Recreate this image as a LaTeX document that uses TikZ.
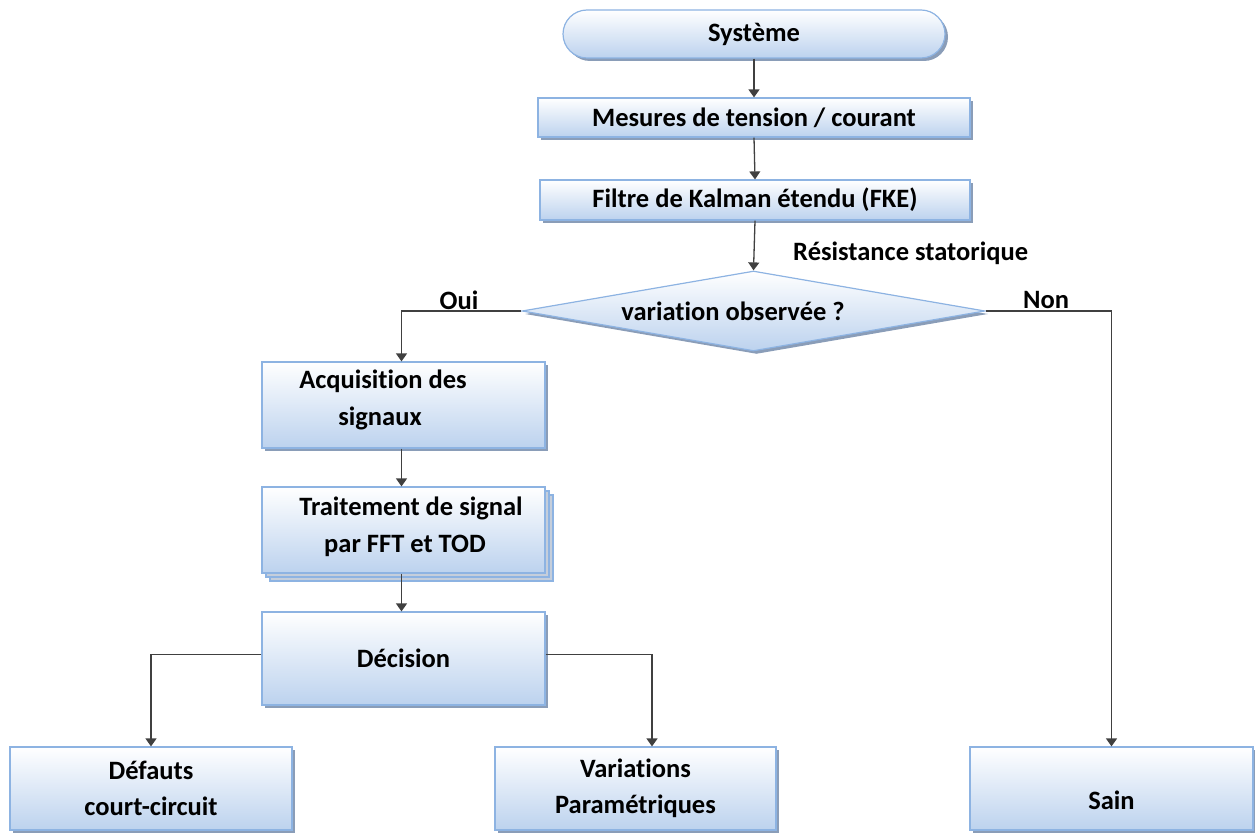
\documentclass[tikz,border=0pt]{standalone}
\usepackage{fontspec}
\setmainfont{Carlito}[Ligatures=NoCommon]
\usetikzlibrary{arrows.meta,shapes.misc,shapes.geometric,shadows}
\definecolor{boxline}{HTML}{8DB3E2}
\definecolor{boxbot}{HTML}{BCD2EE}
\definecolor{shadowc}{HTML}{8A9DB8}
\definecolor{conn}{HTML}{404040}
\tikzset{
  boxsty/.style={draw=boxline, line width=1.2pt, top color=white, bottom color=boxbot,
    inner sep=0pt, font=\fontsize{26.5}{36.5}\selectfont\bfseries, align=center,
    drop shadow={shadow xshift=3pt, shadow yshift=-3pt, fill=shadowc, opacity=1}},
  plainbox/.style={boxsty, rectangle},
  txt/.style={font=\fontsize{26.5}{36.5}\selectfont\bfseries, align=center, inner sep=0pt},
  conline/.style={draw=conn, line width=1.3pt, -{Triangle[width=11pt,length=8pt]}},
}
\begin{document}
\begin{tikzpicture}[x=1pt,y=-1pt]
\useasboundingbox (0,0) rectangle (1255,834);

\node[boxsty, rounded rectangle, minimum width=382pt, minimum height=48pt] (sys) at (754,34) {\raisebox{-2pt}{Système}};
\node[plainbox, minimum width=432pt, minimum height=39pt] (mes) at (754,117.5) {Mesures de tension / courant};
\node[plainbox, minimum width=430pt, minimum height=40pt] (fil) at (755,200) {Filtre de Kalman étendu (FKE)};
\node[txt, anchor=west] (res) at (793,253) {Résistance statorique};

\node[boxsty, diamond, minimum width=463pt, minimum height=80pt, aspect=5.8] (dia) at (753.5,311) {};
\node[txt] (diat) at (733,311) {variation observée ?};
\node[txt] (oui) at (459,300) {Oui};
\node[txt] (non) at (1046,300) {Non};

\node[plainbox, minimum width=283pt, minimum height=86pt] (acq) at (403.5,405) {};
\node[txt] (acqt) at (383,400) {Acquisition des\\\hspace*{-6pt}signaux};

\node[plainbox, minimum width=283pt, minimum height=86pt,
  double copy shadow={shadow xshift=4pt, shadow yshift=-4pt, fill=shadowc!50, draw=boxline, opacity=1}] (trt) at (403.5,530) {};
\node[txt] (trtt) at (411,527) {Traitement de signal\\\hspace*{-12pt}par FFT et TOD};

\node[plainbox, minimum width=283pt, minimum height=93pt] (dec) at (403.5,658.5) {Décision};

\node[plainbox, minimum width=282pt, minimum height=83pt] (def) at (151,788.5) {Défauts\\court-circuit};
\node[plainbox, minimum width=281pt, minimum height=83pt] (var) at (635.5,788.5) {Variations\\Paramétriques};
\node[plainbox, minimum width=283pt, minimum height=83pt] (sain) at (1111.5,788.5) {};
\node[txt] (saint) at (1111.5,800) {Sain};

\draw[conline] (sys.south) -- (mes.north);
\draw[conline] (mes.south) -- (fil.north);
\draw[conline] (fil.south) -- (dia.north);
\draw[conline] (dia.west) -| ([xshift=-2pt]acq.north);
\draw[conline] (dia.east) -| (sain.north);
\draw[conline] ([xshift=-2pt]acq.south) -- ([xshift=-2pt]trt.north);
\draw[conline] ([xshift=-2pt]trt.south) -- ([xshift=-2pt]dec.north);
\draw[conline] ([yshift=4pt]dec.west) -| (def.north);
\draw[conline] ([yshift=4pt]dec.east) -| ([xshift=16.5pt]var.north);
\end{tikzpicture}
\end{document}
